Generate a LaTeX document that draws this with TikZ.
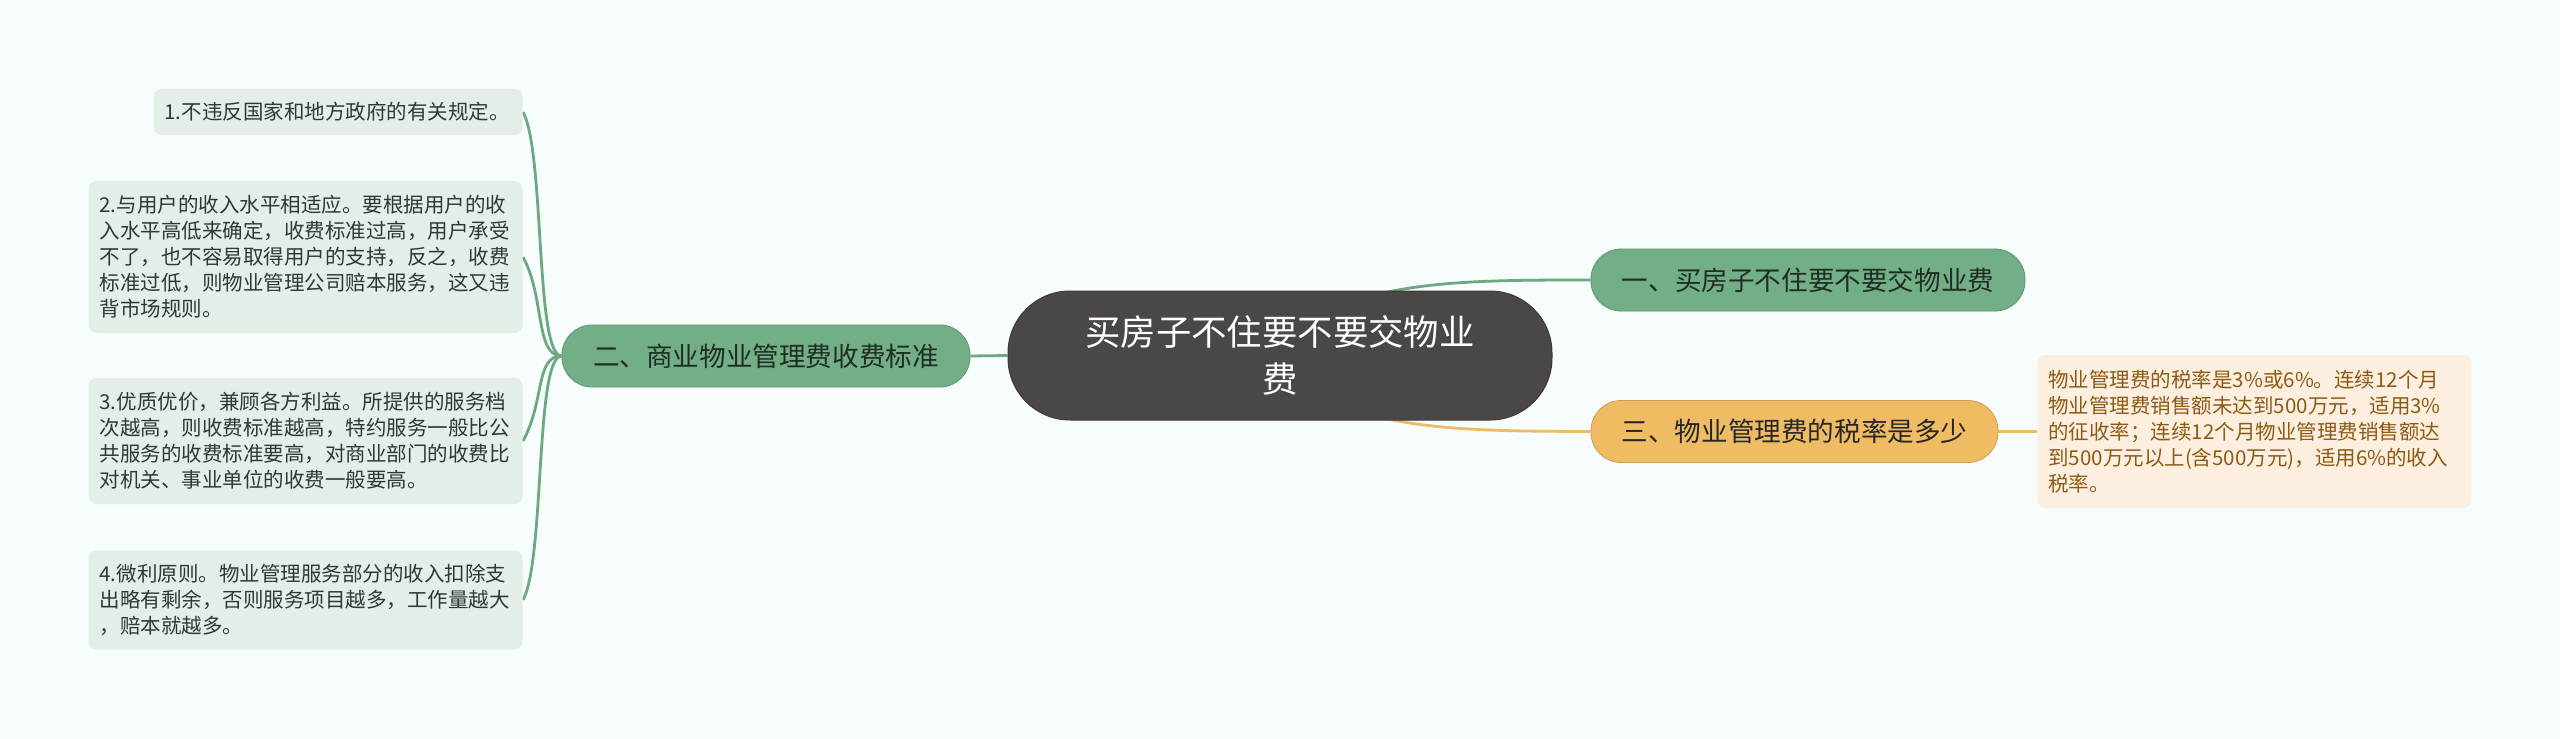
\documentclass[tikz,border=0pt]{standalone}
\usepackage{fontspec}
\setmainfont{Noto Sans CJK SC}
\pgfdeclarelayer{back}
\pgfdeclarelayer{bg}
\pgfsetlayers{back,bg,main}
\definecolor{bgc}{HTML}{F7FCFC}
\definecolor{gnode}{HTML}{72AE86}
\definecolor{gline}{HTML}{6DA882}
\definecolor{gleaf}{HTML}{E3EFE6}
\definecolor{gtext}{HTML}{1F2D23}
\definecolor{ltext}{HTML}{2E3A31}
\definecolor{cfill}{HTML}{4C4747}
\definecolor{onode}{HTML}{EFBC64}
\definecolor{oline}{HTML}{EDBA66}
\definecolor{oleaf}{HTML}{FCEFE0}
\definecolor{otext}{HTML}{8D5A14}
\tikzset{
  leafbox/.style={fill=gleaf, rounded corners=4pt, text=ltext,
    font=\fontsize{10.25}{13}\selectfont, align=left, text width=206pt,
    inner xsep=5.5pt, inner ysep=0pt, anchor=east},
  rleafbox/.style={leafbox, fill=oleaf, text=otext, anchor=west},
  branchbox/.style={fill=gnode, draw=gnode!85!black, line width=0.4pt, rounded corners=15pt,
    text=gtext, font=\fontsize{13.3}{16}\selectfont, inner sep=0pt,
    minimum height=31pt},
  obranchbox/.style={branchbox, fill=onode, draw=onode!85!black, text=black!85},
  centerbox/.style={fill=cfill, draw=cfill!80!black, line width=0.5pt, rounded corners=31pt,
    text=white, font=\fontsize{17.7}{23.5}\selectfont, align=center, inner sep=0pt,
    minimum width=272pt, minimum height=64.5pt},
  gconn/.style={draw=gline, line width=1.4pt},
  oconn/.style={draw=oline, line width=1.4pt}
}
\begin{document}
\begin{tikzpicture}[x=0.5pt,y=-0.5pt]
\begin{pgfonlayer}{back}
\fill[bgc] (0,0) rectangle (2560,739);
\end{pgfonlayer}
\useasboundingbox (0,0) rectangle (2560,739);

\node[centerbox] (c) at (1280,355.5) {买房子不住要不要交物业\\费};
\node[branchbox, minimum width=204pt] (b2) at (766,356) {二、商业物业管理费收费标准};
\node[branchbox, minimum width=217pt] (b1) at (1808,280) {一、买房子不住要不要交物业费};
\node[obranchbox, minimum width=203.5pt] (b3) at (1794.5,431.5) {三、物业管理费的税率是多少};

\node[leafbox, text width=173.5pt, minimum height=23pt] (l1) at (523,112) {1.不违反国家和地方政府的有关规定。};
\node[leafbox, minimum height=76pt] (l2) at (523,257) {2.与用户的收入水平相适应。要根据用户的收\\入水平高低来确定，收费标准过高，用户承受\\不了，也不容易取得用户的支持，反之，收费\\标准过低，则物业管理公司赔本服务，这又违\\背市场规则。};
\node[leafbox, minimum height=63pt] (l3) at (523,441) {3.优质优价，兼顾各方利益。所提供的服务档\\次越高，则收费标准越高，特约服务一般比公\\共服务的收费标准要高，对商业部门的收费比\\对机关、事业单位的收费一般要高。};
\node[leafbox, minimum height=49.5pt] (l4) at (523,600) {4.微利原则。物业管理服务部分的收入扣除支\\出略有剩余，否则服务项目越多，工作量越大\\，赔本就越多。};
\node[rleafbox, minimum height=76.5pt] (r1) at (2037,431.5) {物业管理费的税率是3\%或6\%。连续12个月\\物业管理费销售额未达到500万元，适用3\%\\的征收率；连续12个月物业管理费销售额达\\到500万元以上(含500万元)，适用6\%的收入\\税率。};

\begin{pgfonlayer}{bg}
\draw[gconn] (b2.east) -- (c.west);
\draw[gconn] (c.center) .. controls (1330,280) and (1450,280) .. (b1.west);
\draw[oconn] (c.center) .. controls (1330,431) and (1450,431) .. (b3.west);
\draw[oconn] (b3.east) -- (r1.west);
\draw[gconn] (b2.west) .. controls (535,356) and (545,152) .. (l1.east);
\draw[gconn] (b2.west) .. controls (535,356) and (545,297) .. (l2.east);
\draw[gconn] (b2.west) .. controls (535,356) and (545,401) .. (l3.east);
\draw[gconn] (b2.west) .. controls (535,356) and (545,560) .. (l4.east);
\end{pgfonlayer}
\end{tikzpicture}
\end{document}
